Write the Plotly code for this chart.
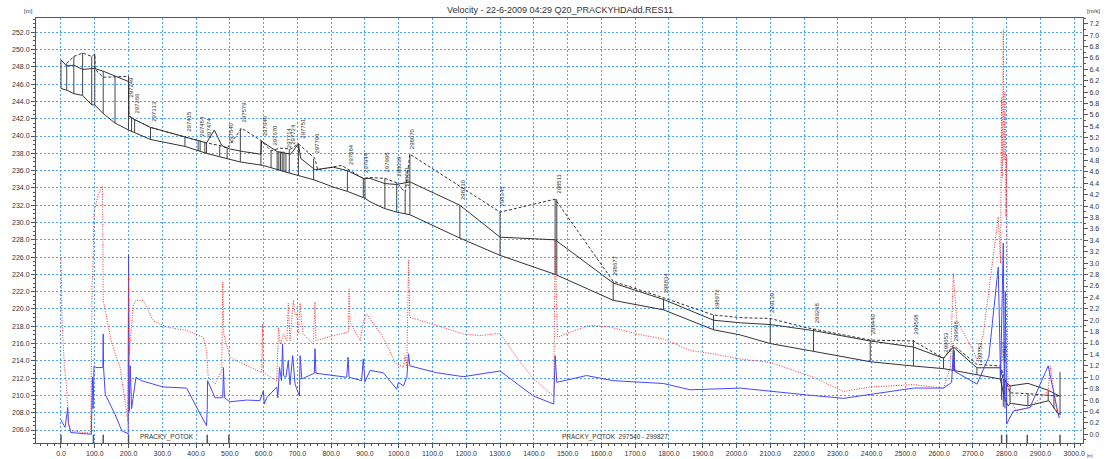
import plotly.graph_objects as go

# ---------------- data ----------------
# bed level (lower solid line)
bed_ch = [0, 17, 38, 64, 91, 100, 125, 160, 200, 218, 265, 367, 406, 431, 470, 500, 531, 599, 639, 678,
          752, 806, 848, 900, 915, 959, 994, 1019, 1033, 1181, 1300, 1463, 1635, 1784, 1932, 2011, 2100,
          2228, 2396, 2524, 2613, 2642, 2712, 2781, 2795, 2805, 2810, 2863, 2925, 2950, 2960]
bed_lvl = [245.5, 245.3, 244.9, 244.7, 243.6, 243.6, 242.6, 241.5, 240.7, 240.4, 239.6, 238.8, 238.3, 238.0,
           237.6, 237.3, 237.0, 236.6, 236.1, 235.7, 234.9, 234.1, 233.6, 232.8, 232.4, 231.6, 231.2, 231.0,
           230.9, 228.2, 226.2, 224.0, 221.0, 219.9, 217.6, 217.0, 216.0, 215.1, 213.9, 213.4, 213.1, 212.9,
           212.4, 211.9, 209.5, 208.8, 209.1, 208.8, 209.4, 208.0, 207.8]

# water level (upper solid line)
wl_ch = [0, 17, 38, 64, 91, 100, 125, 160, 200, 201, 218, 265, 367, 406, 431, 454, 476, 500, 540, 592, 594,
         640, 680, 703, 710, 752, 806, 848, 895, 915, 959, 994, 1033, 1181, 1300, 1463, 1635, 1784, 1932,
         2011, 2100, 2228, 2396, 2524, 2613, 2642, 2712, 2781, 2790, 2810, 2863, 2923, 2958]
wl_lvl = [248.8, 248.1, 248.2, 247.7, 247.8, 247.8, 247.5, 246.9, 246.3, 242.3, 241.9, 241.0, 239.9, 239.4,
          239.2, 240.7, 238.9, 238.5, 238.2, 237.9, 239.4, 238.2, 237.9, 239.1, 237.4, 236.1, 236.4, 236.0,
          235.1, 235.1, 234.5, 234.4, 234.7, 232.0, 228.3, 228.0, 223.0, 221.1, 218.7, 218.4, 218.2, 217.5,
          216.3, 215.6, 214.3, 215.6, 213.2, 213.2, 211.8, 211.1, 211.4, 210.6, 209.9]

# bank level (dashed line)
bank_ch = [17, 38, 64, 91, 100, 101, 125, 200, 201, 218, 265, 367, 431, 470, 492, 535, 592, 622, 648, 680,
           703, 752, 760, 831, 895, 915, 959, 994, 1019, 1033, 1300, 1463, 1635, 1784, 1932, 2011, 2100,
           2200, 2396, 2524, 2613, 2642, 2712, 2781, 2810, 2863, 2923, 2958]
bank_lvl = [248.4, 249.2, 249.6, 249.2, 249.5, 247.7, 246.8, 246.9, 242.3, 241.9, 241.0, 239.9, 239.2, 238.9,
            238.6, 240.9, 239.5, 238.3, 238.6, 238.5, 239.1, 237.4, 236.1, 236.6, 235.1, 235.2, 235.1, 234.6,
            233.5, 237.9, 231.2, 232.7, 223.2, 221.3, 219.3, 219.0, 218.9, 217.9, 216.4, 216.3, 214.3, 215.8,
            213.6, 213.4, 210.3, 210.2, 210.0, 209.9]

# cross-section markers
xs_ch = [0, 17, 38, 64, 91, 100, 125, 160, 200, 209, 218, 265, 367, 406, 412, 426, 431, 470, 492, 531, 592,
         622, 640, 645, 650, 655, 660, 666, 676, 703, 748, 848, 895, 900, 959, 994, 1019, 1033, 1181, 1300,
         1463, 1468, 1635, 1784, 1932, 2100, 2228, 2396, 2524, 2613, 2642, 2645, 2712, 2781, 2785, 2790,
         2795, 2800, 2810, 2863, 2923, 2940, 2958]
xs_bot = [245.5, 245.3, 244.9, 244.7, 243.6, 243.6, 242.6, 241.5, 240.7, 240.5, 240.4, 239.6, 238.8, 238.3,
          238.2, 238.0, 238.0, 237.6, 237.4, 237.0, 236.6, 236.3, 236.1, 236.0, 236.0, 235.9, 235.9, 235.8,
          235.7, 235.4, 234.9, 233.6, 232.9, 232.8, 231.6, 231.2, 231.0, 230.9, 228.2, 226.2, 224.0, 224.0,
          221.0, 219.9, 217.6, 216.0, 215.1, 213.9, 213.4, 213.1, 212.9, 212.9, 212.4, 211.9, 209.5, 208.7,
          208.5, 208.7, 209.1, 208.8, 209.4, 208.5, 207.8]
xs_top = [248.8, 248.4, 249.2, 249.6, 249.2, 249.5, 247.5, 246.9, 246.9, 242.2, 241.9, 241.0, 239.9, 239.4,
          239.4, 239.2, 239.2, 238.9, 238.6, 240.9, 239.5, 238.3, 238.2, 238.2, 238.2, 238.2, 238.2, 238.0,
          238.5, 239.1, 237.4, 236.0, 235.1, 235.1, 235.1, 234.6, 233.5, 237.9, 232.0, 231.2, 232.7, 232.7,
          223.2, 221.2, 219.3, 218.9, 217.7, 216.4, 216.4, 214.3, 215.6, 215.2, 213.2, 213.2, 212.0, 211.8,
          211.5, 211.3, 211.1, 210.2, 210.6, 210.3, 212.7]

# cross-section labels
lbl_text = ["297249", "297266", "297313", "297415", "297454", "297474", "297540", "297579", "297640",
            "297670", "297714", "297724", "297751", "297796", "297884", "297944", "297998", "298039",
            "298061", "298070", "298230", "298345", "298511", "298677", "298834", "298972", "299139",
            "299268", "299440", "299568", "299653", "299688", "299753", "299827"]
lbl_ch = [200, 216, 268, 370, 408, 428, 495, 534, 595, 622, 666, 678, 705, 750, 848, 896, 957, 992, 1017,
          1031, 1181, 1298, 1463, 1631, 1782, 1932, 2098, 2228, 2396, 2524, 2613, 2642, 2712, 2781]
lbl_lvl = [244.1, 242.3, 241.3, 240.2, 239.6, 239.4, 238.8, 241.2, 239.7, 238.5, 238.3, 238.7, 239.3, 237.6,
           236.3, 235.4, 235.4, 234.9, 233.8, 238.1, 232.3, 231.5, 233.0, 223.5, 221.5, 219.6, 219.2, 218.0,
           216.7, 216.7, 214.6, 215.9, 213.5, 213.5]

# velocity (right axis) - blue solid
vb_ch = [0, 12, 20, 22, 29, 90, 93, 95, 98, 103, 124, 125, 126, 131, 160, 180, 199, 200, 202, 205, 209, 222,
         238, 302, 372, 402, 431, 433, 434, 456, 479, 481, 484, 500, 550, 589, 599, 602, 609, 639, 642, 647,
         653, 656, 659, 666, 673, 678, 686, 693, 706, 708, 713, 750, 752, 755, 846, 850, 853, 890, 895, 900,
         915, 954, 994, 999, 1014, 1024, 1029, 1033, 1112, 1191, 1300, 1399, 1459, 1463, 1468, 1556, 1635,
         1784, 1863, 2011, 2100, 2208, 2317, 2396, 2524, 2613, 2637, 2642, 2647, 2712, 2747, 2775, 2782,
         2786, 2790, 2793, 2796, 2800, 2820, 2869, 2923, 2955]
vb_val = [0.25, 0.12, 0.47, 0.2, 0.03, 0.0, 1.0, 0.45, 1.2, 1.17, 1.17, 1.76, 1.17, 0.7, 0.35, 0.06, 0.01,
          3.15, 0.4, 1.2, 0.45, 1.0, 0.94, 0.83, 0.81, 0.47, 0.15, 0.44, 0.94, 0.64, 0.64, 1.17, 0.64, 0.57,
          0.60, 0.59, 0.76, 0.53, 0.64, 0.83, 0.64, 1.17, 0.94, 1.58, 1.03, 1.0, 1.29, 0.87, 1.38, 0.88, 0.67,
          1.38, 0.97, 1.07, 1.5, 1.07, 1.0, 1.35, 1.0, 0.94, 1.32, 0.92, 1.12, 1.08, 0.79, 0.91, 0.85, 1.0,
          1.41, 1.20, 1.08, 1.01, 1.11, 0.67, 0.53, 1.38, 0.91, 1.03, 0.94, 0.89, 0.78, 0.81, 0.75, 0.69, 0.63,
          0.70, 0.81, 0.81, 0.91, 1.47, 1.1, 0.88, 1.35, 2.93, 1.0, 2.2, 3.35, 0.6, 2.5, 0.18, 0.41, 0.47,
          1.20, 0.29]

# velocity (right axis) - red dotted
vr_ch = [0, 3, 10, 17, 22, 31, 88, 92, 95, 98, 110, 123, 125, 150, 175, 198, 200, 202, 214, 222, 244, 273,
         313, 372, 421, 431, 436, 456, 476, 479, 482, 500, 530, 594, 597, 599, 639, 644, 649, 659, 669, 673,
         678, 688, 693, 698, 703, 708, 712, 717, 747, 752, 755, 806, 851, 853, 856, 886, 895, 905, 915, 954,
         989, 1014, 1019, 1024, 1029, 1033, 1112, 1191, 1241, 1300, 1349, 1399, 1459, 1463, 1470, 1507, 1566,
         1626, 1705, 1784, 1863, 1932, 2011, 2100, 2228, 2317, 2396, 2524, 2613, 2633, 2642, 2652, 2701, 2712,
         2731, 2761, 2775, 2782, 2785, 2787, 2790, 2792, 2795, 2798, 2800, 2803, 2810, 2829, 2869, 2923, 2929,
         2948, 2958]
vr_val = [3.1, 2.0, 1.2, 0.8, 0.15, 0.06, 0.02, 2.6, 3.0, 3.9, 4.2, 4.35, 2.35, 1.6, 1.17, 0.23, 2.8, 1.4,
          2.26, 2.35, 2.35, 1.99, 1.88, 1.82, 1.70, 1.47, 1.0, 0.88, 1.11, 2.67, 1.76, 1.35, 1.26, 1.08, 1.94,
          1.08, 0.94, 1.88, 1.58, 1.76, 1.64, 2.3, 1.64, 2.35, 2.1, 2.11, 1.77, 2.3, 2.0, 1.76, 1.58, 2.32,
          1.64, 1.73, 1.79, 2.55, 1.96, 1.64, 1.96, 2.11, 2.02, 1.70, 1.26, 1.17, 1.38, 1.17, 3.05, 2.05, 1.91,
          1.76, 1.73, 1.77, 1.35, 0.97, 0.67, 3.4, 1.70, 1.79, 1.91, 1.88, 1.76, 1.67, 1.47, 1.41, 1.32, 1.26,
          1.0, 0.75, 0.83, 0.87, 0.81, 1.17, 2.82, 2.0, 1.47, 1.29, 1.76, 3.11, 3.81, 3.0, 5.9, 4.5, 7.1, 4.8,
          6.0, 3.8, 4.9, 1.0, 0.59, 0.41, 0.47, 0.76, 1.20, 0.41, 0.29]

# branch markers along the bottom axis
branch_ch = [0, 96, 125, 200, 433, 497, 2785, 2800, 2861, 2958]
branch_text = ["PRACKY_POTOK", "PRACKY_POTOK  297540 - 299827"]
branch_text_ch = [315, 1640]

x_ticks = list(range(0, 3001, 100))

# ---------------- figure ----------------
FONT = "Liberation Sans, Arial, sans-serif"
INK = "#333333"
GRID = "#4da3ff"

fig = go.Figure()

vx, vy = [], []
for c, b, t in zip(xs_ch, xs_bot, xs_top):
    vx += [c, c, None]
    vy += [b, t, None]
fig.add_trace(go.Scatter(x=vx, y=vy, mode="lines", line=dict(color="#444444", width=1),
                         hoverinfo="skip", showlegend=False))

fig.add_trace(go.Scatter(x=bank_ch, y=bank_lvl, mode="lines",
                         line=dict(color=INK, width=1, dash="3px,2px"), showlegend=False))
fig.add_trace(go.Scatter(x=wl_ch, y=wl_lvl, mode="lines", line=dict(color=INK, width=1), showlegend=False))
fig.add_trace(go.Scatter(x=bed_ch, y=bed_lvl, mode="lines", line=dict(color=INK, width=1), showlegend=False))

y_bottom = 204.5
bx, by = [], []
for c in branch_ch:
    bx += [c, c, None]
    by += [y_bottom, y_bottom + 0.95, None]
fig.add_trace(go.Scatter(x=bx, y=by, mode="lines", line=dict(color="#555555", width=1.5),
                         hoverinfo="skip", showlegend=False))

fig.add_trace(go.Scatter(x=vb_ch, y=vb_val, yaxis="y2", mode="lines",
                         line=dict(color="#4646ff", width=1), showlegend=False))
fig.add_trace(go.Scatter(x=vr_ch, y=vr_val, yaxis="y2", mode="lines",
                         line=dict(color="#ff2a2a", width=1, dash="1px,1.5px"), showlegend=False))

annotations = []
for t, c, l in zip(lbl_text, lbl_ch, lbl_lvl):
    annotations.append(dict(x=c, y=l, xref="x", yref="y", text=t, textangle=-90, showarrow=False,
                            xanchor="center", yanchor="bottom", xshift=3, yshift=1,
                            font=dict(size=6, color=INK, family=FONT)))
for t, c in zip(branch_text, branch_text_ch):
    annotations.append(dict(x=c, y=y_bottom + 0.75, xref="x", yref="y", text=t, showarrow=False,
                            xanchor="center", yanchor="middle", font=dict(size=6.5, color=INK, family=FONT)))

annotations += [
    dict(x=0.5, y=1.0, xref="paper", yref="paper", yanchor="bottom", yshift=1,
         text="Velocity - 22-6-2009 04:29 Q20_PRACKYHDAdd.RES11", showarrow=False,
         font=dict(size=9, color=INK, family=FONT)),
    dict(x=0, y=1.0, xref="paper", yref="paper", xanchor="right", yanchor="bottom", xshift=-1, yshift=2,
         text="[m]", showarrow=False, font=dict(size=6, color=INK, family=FONT)),
    dict(x=1, y=1.0, xref="paper", yref="paper", xanchor="left", yanchor="bottom", xshift=2, yshift=2,
         text="[m/s]", showarrow=False, font=dict(size=6, color=INK, family=FONT)),
    dict(x=1.0, y=0, xref="paper", yref="paper", xanchor="left", yanchor="top", xshift=2, yshift=-8,
         text="[m]", showarrow=False, font=dict(size=4, color=INK, family=FONT)),
]

axis_common = dict(showline=True, linecolor="#555555", linewidth=1, ticks="outside", tickcolor="#555555",
                   tickfont=dict(size=7, color=INK, family=FONT), zeroline=False, automargin=False)

fig.update_layout(
    width=1107, height=459,
    margin=dict(l=36, r=24, t=18, b=16),
    paper_bgcolor="white", plot_bgcolor="white",
    font=dict(family=FONT, color=INK),
    showlegend=False,
    xaxis=dict(range=[-74, 3026], tickvals=x_ticks, ticktext=[f"{v:.1f}" for v in x_ticks],
               ticklen=4, mirror=True, showgrid=True, gridcolor=GRID, gridwidth=1, griddash="2px,2px",
               minor=dict(dtick=20, tick0=0, ticklen=2, ticks="outside", tickcolor="#555555", showgrid=False),
               **axis_common),
    yaxis=dict(range=[204.5, 253.65], tick0=206, dtick=2, tickformat=".1f", ticklen=4, mirror=True,
               showgrid=True, gridcolor=GRID, gridwidth=1, griddash="2px,2px",
               minor=dict(dtick=0.5, tick0=206, ticklen=2, ticks="outside", tickcolor="#555555",
                          showgrid=False),
               **axis_common),
    yaxis2=dict(range=[-0.153, 7.30], tick0=0, dtick=0.2, tickformat=".1f", ticklen=4, overlaying="y",
                side="right", showgrid=False,
                minor=dict(dtick=0.1, tick0=0, ticklen=2, ticks="outside", tickcolor="#555555"),
                **axis_common),
    annotations=annotations,
)

# the page's default body margin would push the 1107x459 figure off the window edges
fig.write_html("out.html", config={"displayModeBar": False},
               post_script="document.body.style.margin='0';document.body.style.overflow='hidden';")
